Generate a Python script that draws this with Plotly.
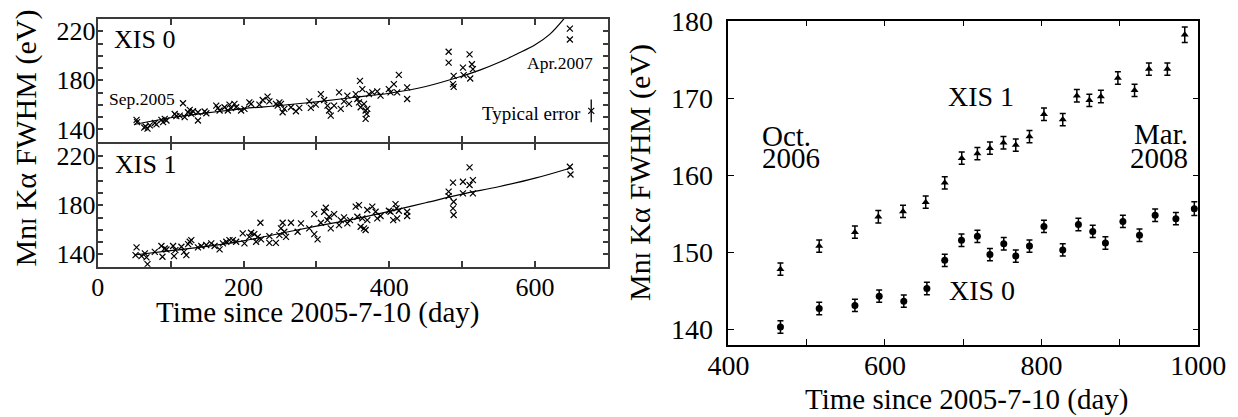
import plotly.graph_objects as go

W, H = 1238, 417
FONT = "Liberation Serif, Times New Roman, Times, DejaVu Serif, serif"
OFF = 8  # page body margin

# ---------------- Left panel data (XIS 0, top) ----------------
xis0_day = [53.3, 54, 63.8, 65.6, 68.3, 71.5, 78.3, 80.6, 87.4, 89.7, 92, 94.3, 105.6, 107.9,
            112.5, 117, 119.3, 123.9, 126.2, 128.4, 130.7, 137.5, 137.5, 146.7, 149, 162.6,
            164.9, 167.2, 174, 178.5, 180.8, 183, 187.6, 189.9, 196.7, 201.3, 208, 210.4,
            221.8, 226.4, 233, 235.5, 244.5, 246.9, 249.2, 251.4, 253.7, 256, 265.1, 271.9,
            276.5, 290.2, 292.4, 299.2, 306.1, 310.6, 315.2, 317.4, 319.7, 324.3, 331.1,
            333.4, 337.9, 342.5, 344.8,
            353.9, 356.2, 358.4, 359.8, 363, 360.7, 365.3, 367.5, 368.9, 369.8, 367.5, 372.1,
            376.7, 383.5, 388, 399.4, 401.7, 406.3, 410.8, 413.1, 424.5, 424.5, 481.4, 481.4,
            488.3, 487.4, 488.3, 501, 502, 510.1, 513.3, 514.7, 511, 647.7, 647.7]
xis0_fwhm = [147.8, 146, 141.4, 142.4, 140.6, 143.3, 145.2, 144.1, 147.8, 146, 148.6, 147.3,
             152.6, 150.8, 151.3, 161.3, 150, 154, 155.9, 152.7, 154.8, 147.3, 154, 154.6,
             153.2, 159.4, 157.3, 155.4, 158.1, 155.4, 160.2, 157.3, 160.8, 158.1, 155.4,
             156.7, 162.1, 160.8, 160.2, 164, 166.7, 162.9, 160.8, 159.4, 162.1, 160.8, 154,
             156.7, 158.1, 154.8, 157.5, 162.9, 157.5, 160.2, 168.8, 164, 159.4, 155.4, 151.3,
             159.4, 170.2, 156.7, 162.9, 167.5, 160.8,
             168.8, 164.8, 162.1, 179.6, 172.9, 158.1, 160.8, 155.4, 152.7, 156.7, 148.6,
             168.8, 170.2, 171, 167.5, 172.9, 170.2, 176.9, 170.2, 184.5, 174.3, 164.8, 203.3,
             194.4, 183.6, 176.9, 174.7, 190.4, 184.2, 201.2, 193.1, 189.1, 181.5, 222.2, 213.3]
fit0_day = [50, 100, 150, 200, 250, 300, 350, 400, 450, 500, 525, 550, 575, 600, 620, 640]
fit0_fwhm = [144, 149.5, 153.5, 157, 159.5, 162.5, 166, 169.5, 175, 183.5, 188.5, 194.5, 201.5,
             209, 217.5, 230.5]

# ---------------- Left panel data (XIS 1, bottom) ----------------
xis1_day = [53.3, 51.9, 60.1, 64.7, 66.9, 68.3, 78.3, 87.4, 88.8, 92, 94.3, 103.4, 104.7, 106.6,
            114.8, 118.4, 121.6, 124, 126.2, 128.4, 137.5, 142.1, 148.9, 155.8, 160.3, 167.2,
            171.8, 176.4, 180.8, 185.4, 189.9, 199, 201.3, 208, 210.4, 214.8, 217.3, 219.6,
            223.2, 224.1, 235.5, 235.5, 244.5, 249.2, 251.4, 253.7, 256, 258.3, 265.1, 274.2,
            278.8, 290.2, 297.1, 301.6, 297, 306.1, 310.6, 312.9, 315.2, 317.4, 319.7, 324.3,
            331.1, 333.4, 337.9, 342.5, 346.1,
            353.9, 358.4, 356.2, 360.7, 363, 365.3, 367.5, 369.8, 369.8, 376.7, 381.2, 383.5,
            388, 399.4, 401.7, 405.4, 408.5, 409.9, 410.8, 413.1, 424.5, 424.5, 481.4, 481.4,
            487.4, 488.3, 487.4, 488.3, 501, 501, 510.1, 510.1, 514.7, 514.7, 647.7, 648.6]
xis1_fwhm = [145.7, 139.4, 138.6, 140.8, 137.5, 132.1, 142.1, 146.8, 138.1, 144.8, 144, 146.8,
             138.6, 143.5, 146.2, 142.1, 139.4, 148.4, 150.3, 151.6, 145.7, 146.8, 147.6, 149,
             146.8, 144.1, 149, 150.3, 151.6, 151.6, 150.3, 157.1, 149, 154.3, 157.6, 156.5,
             150.3, 154.3, 165.7, 152.2, 154.8, 149.4, 149.4, 155.7, 161.1, 165.7, 158.4,
             154.3, 165.7, 158.4, 165.2, 161.1, 156.5, 152.2, 172.8, 165.7, 174.7, 177.9,
             167.9, 170.6, 161.1, 172.8, 163.8, 167.9, 170.1, 165.2, 167.9,
             178.8, 180.1, 170.6, 162.5, 169.3, 161.1, 159.8, 167.9, 176.1, 178.8, 174.7,
             169.3, 171.2, 175.5, 174.7, 167.9, 180.9, 177.4, 169.3, 175.5, 174.7, 171.2, 191,
             187.4, 198.3, 182.8, 177.4, 172, 199.1, 189.6, 210.8, 196.4, 200.4, 189.6, 211.3, 205]
fit1_day = [50, 100, 150, 200, 250, 300, 350, 400, 450, 500, 550, 600, 650]
fit1_fwhm = [139.5, 143, 146.5, 151, 157, 163, 168.5, 175, 182, 189, 195, 202, 210.5]

# typical error marker
typ_day = [677]
typ_fwhm = [155.1]
typ_err = [9.3]

# ---------------- Right panel data ----------------
r1_day = [466.5, 516, 561.6, 591.5, 623, 652, 676.3, 698, 718, 734, 751.3, 767, 784.5, 803,
          827, 845, 861, 875.7, 897.4, 918.7, 937, 960.6, 982.8]
r1_fwhm = [147.8, 150.8, 152.6, 154.6, 155.3, 156.5, 159.0, 162.2, 162.8, 163.5, 164.2, 163.9,
           165.0, 167.9, 167.2, 170.3, 169.7, 170.2, 172.6, 171.0, 173.75, 173.75, 178.2]
r1_err = [0.8] * 22 + [1.0]
r0_day = [466.5, 516, 561.6, 592.6, 624, 653.5, 676.3, 697.7, 718, 734, 751.7, 767, 784.5,
          803, 827, 847, 865.3, 881.5, 903.8, 925, 945, 971.5, 995]
r0_fwhm = [140.3, 142.7, 143.1, 144.3, 143.65, 145.3, 148.95, 151.55, 152.06, 149.7, 151.1,
           149.5, 150.8, 153.35, 150.3, 153.6, 152.7, 151.2, 154.0, 152.2, 154.8, 154.35, 155.65]
r0_err = [0.8] * 22 + [0.9]

right_yticks = [140, 150, 160, 170, 180]
left_yticks = [140, 180, 220]


def px(x):
    return (x - OFF) / W


def py(y):
    return 1 - (y - OFF) / H


fig = go.Figure()

xm = dict(symbol="x-thin-open", size=6, color="black", line=dict(width=1.2, color="black"))

fig.add_trace(go.Scatter(x=xis0_day, y=xis0_fwhm, mode="markers", marker=xm,
                         xaxis="x2", yaxis="y2", showlegend=False))
fig.add_trace(go.Scatter(x=fit0_day, y=fit0_fwhm, mode="lines", line=dict(color="black", width=1.2, shape="spline"),
                         xaxis="x2", yaxis="y2", showlegend=False))
fig.add_trace(go.Scatter(x=typ_day, y=typ_fwhm, mode="markers", marker=xm,
                         error_y=dict(type="data", array=typ_err, color="black", thickness=1.3, width=0),
                         xaxis="x2", yaxis="y2", showlegend=False))
fig.add_trace(go.Scatter(x=xis1_day, y=xis1_fwhm, mode="markers", marker=xm,
                         xaxis="x", yaxis="y", showlegend=False))
fig.add_trace(go.Scatter(x=fit1_day, y=fit1_fwhm, mode="lines", line=dict(color="black", width=1.2, shape="spline"),
                         xaxis="x", yaxis="y", showlegend=False))

fig.add_trace(go.Scatter(x=r1_day, y=r1_fwhm, mode="markers",
                         marker=dict(symbol="triangle-up", size=7, color="black"),
                         error_y=dict(type="data", array=r1_err, color="black", thickness=1.5, width=3),
                         xaxis="x3", yaxis="y3", showlegend=False))
fig.add_trace(go.Scatter(x=r0_day, y=r0_fwhm, mode="markers",
                         marker=dict(symbol="circle", size=7, color="black"),
                         error_y=dict(type="data", array=r0_err, color="black", thickness=1.5, width=3),
                         xaxis="x3", yaxis="y3", showlegend=False))

LCOL = "#3a3a3a"
tickfont_l = dict(family=FONT, size=26, color="black")
tickfont_r = dict(family=FONT, size=28, color="black")

left_x = dict(range=[0, 700], showline=True, linecolor=LCOL, linewidth=2, mirror="ticks",
              ticks="inside", ticklen=6, tickcolor=LCOL, tickwidth=1.5, tick0=0, dtick=200,
              minor=dict(dtick=100, ticks="inside", ticklen=6, tickcolor=LCOL, tickwidth=1.5),
              showgrid=False, zeroline=False, tickfont=tickfont_l, automargin=False,
              domain=[px(97.7), px(608)])
left_y = dict(range=[129.98, 230.02], showline=True, linecolor=LCOL, linewidth=2, mirror="ticks",
              ticks="inside", ticklen=5, tickcolor=LCOL, tickwidth=1.5,
              tickmode="array", tickvals=left_yticks,
              minor=dict(dtick=10, tick0=130, ticks="inside", ticklen=5, tickcolor=LCOL, tickwidth=1.5),
              showgrid=False, zeroline=False, tickfont=tickfont_l, ticklabelstandoff=-5,
              automargin=False, ticklabeloverflow="allow")

fig.update_layout(
    template="none",
    width=W, height=H,
    margin=dict(l=0, r=0, t=0, b=0, autoexpand=False),
    paper_bgcolor="white", plot_bgcolor="white",
    font=dict(family=FONT, color="black"),
    xaxis=dict(**left_x, anchor="y", ticklabelstandoff=-4),
    yaxis=dict(**left_y, anchor="x", domain=[py(266.7), py(143.7)]),
    xaxis2=dict(**left_x, anchor="y2", matches="x", showticklabels=False),
    yaxis2=dict(**left_y, anchor="x2", domain=[py(141.7), py(19)]),
    xaxis3=dict(range=[399.9, 1000.1], showline=True, linecolor="black", linewidth=1.5, mirror="ticks",
                ticks="inside", ticklen=6, tickcolor="black", tickwidth=1.2, tick0=400, dtick=200,
                minor=dict(dtick=100, ticks="inside", ticklen=6, tickcolor="black", tickwidth=1.2),
                showgrid=False, zeroline=False, tickfont=tickfont_r, anchor="y3", automargin=False,
                domain=[px(728.3), px(1198.3)], ticklabelstandoff=-5, ticklabeloverflow="allow"),
    yaxis3=dict(range=[137.97, 180.03], showline=True, linecolor="black", linewidth=1.5, mirror="ticks",
                ticks="inside", ticklen=6, tickcolor="black", tickwidth=1.2,
                tickmode="array", tickvals=right_yticks,
                showgrid=False, zeroline=False, tickfont=tickfont_r, anchor="x3", automargin=False,
                domain=[py(345), py(20.7)], ticklabelstandoff=8, ticklabeloverflow="allow"),
)

ytitle = "Mn<span style='font-size:21px'>I</span> Kα FWHM (eV)"
xtitle = "Time since 2005-7-10 (day)"


def ann(text, x, y, size, xanchor="center", yanchor="middle", angle=0):
    fig.add_annotation(text=text, x=px(x), y=py(y), xref="paper", yref="paper",
                       xanchor=xanchor, yanchor=yanchor, showarrow=False, textangle=angle,
                       font=dict(family=FONT, size=size, color="black"))


ann(ytitle, 25, 138.5, 30, angle=-90)
ann(ytitle, 640, 173, 30, angle=-90)
ann(xtitle, 318, 312, 29)
ann(xtitle, 966.7, 399, 29)

ann("XIS 0", 112, 40, 26, xanchor="left")
ann("XIS 1", 113, 164, 26, xanchor="left")
ann("Sep.2005", 107, 99, 17.5, xanchor="left")
ann("Apr.2007", 595, 63, 17.5, xanchor="right")
ann("Typical error", 583, 113, 19, xanchor="right")

ann("XIS 1", 981, 96, 28)
ann("XIS 0", 982, 290, 28)
ann("Oct.", 760, 136, 29, xanchor="left")
ann("2006", 760, 158, 29, xanchor="left")
ann("Mar.", 1190, 134, 29, xanchor="right")
ann("2008", 1190, 158, 29, xanchor="right")

fig.write_html("out.html")
